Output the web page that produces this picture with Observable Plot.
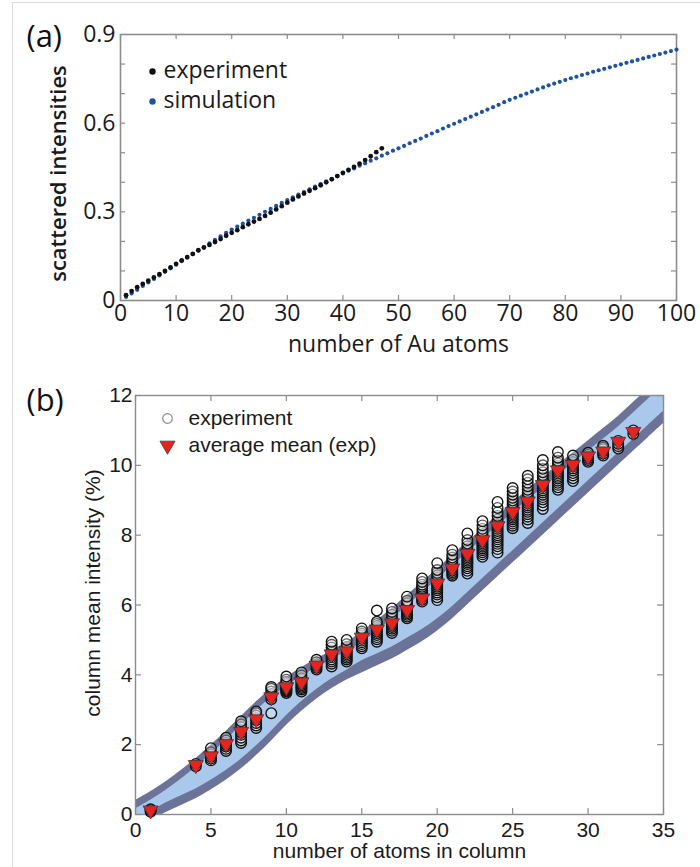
<!DOCTYPE html>
<html>
<head>
<meta charset="utf-8">
<script src="https://cdn.jsdelivr.net/npm/d3@7"></script>
<script src="https://cdn.jsdelivr.net/npm/@observablehq/plot@0.6"></script>
<style>
  body { margin: 0; background: #fff; }
  #wrap { position: relative; width: 700px; height: 867px; overflow: hidden; background: #fff; }
  #wrap svg { display: block; }
  #edge { position: absolute; left: 12px; top: 2px; width: 720px; height: 900px;
          border-left: 1px solid #dcdcdc; border-top: 1px solid #dcdcdc; pointer-events: none; }
</style>
</head>
<body>
<div id="wrap"><div id="edge"></div></div>
<script>
// ---------- Panel (a) data ----------
const simAtoms = d3.range(1, 101);
const simValues = [
  0.012,0.024,0.036,0.049,0.061,0.073,0.085,0.097,0.109,0.121,
  0.133,0.145,0.157,0.169,0.181,0.193,0.205,0.217,0.229,0.240,
  0.250,0.260,0.270,0.280,0.290,0.300,0.310,0.320,0.330,0.340,
  0.349,0.358,0.367,0.376,0.385,0.394,0.403,0.412,0.421,0.430,
  0.439,0.447,0.456,0.464,0.473,0.481,0.490,0.498,0.507,0.515,
  0.523,0.532,0.540,0.548,0.557,0.565,0.573,0.582,0.590,0.598,
  0.606,0.614,0.622,0.630,0.638,0.646,0.654,0.662,0.671,0.679,
  0.686,0.693,0.700,0.707,0.714,0.721,0.728,0.734,0.740,0.746,
  0.752,0.757,0.763,0.768,0.774,0.779,0.784,0.789,0.794,0.799,
  0.804,0.809,0.814,0.819,0.824,0.829,0.834,0.839,0.844,0.849
];
const expAtomsA = d3.range(1, 48);
const expValuesA = [
  0.018,0.032,0.045,0.056,0.067,0.078,0.089,0.100,0.112,0.124,
  0.136,0.147,0.158,0.170,0.179,0.188,0.198,0.208,0.219,0.229,
  0.238,0.248,0.258,0.267,0.276,0.286,0.297,0.308,0.319,0.331,
  0.342,0.352,0.362,0.371,0.380,0.390,0.400,0.410,0.421,0.432,
  0.442,0.452,0.463,0.475,0.488,0.502,0.515
];
const xTicksA = [0,10,20,30,40,50,60,70,80,90,100];
const yTickLabelsA = [0, 0.3, 0.6, 0.9];
const yMinorTicksA = [0.1,0.2,0.3,0.4,0.5,0.6,0.7,0.8];
const legendA = ["experiment", "simulation"];

// ---------- Panel (b) data ----------
const bandAtoms = d3.range(0, 36);
const bandOuterUpper = [0.40,0.65,0.93,1.25,1.60,1.98,2.38,2.80,3.22,3.60,3.92,4.20,4.45,4.68,4.93,5.22,5.55,5.90,6.27,6.65,7.03,7.42,7.80,8.18,8.56,8.93,9.30,9.65,10.00,10.35,10.70,11.05,11.40,11.80,12.20,12.60];
const bandInnerUpper = [0.16,0.41,0.69,1.00,1.35,1.73,2.13,2.55,2.97,3.35,3.67,3.95,4.20,4.43,4.68,4.92,5.25,5.60,5.97,6.35,6.73,7.12,7.50,7.88,8.26,8.63,9.00,9.35,9.70,10.05,10.40,10.75,11.10,11.50,11.90,12.30];
const bandInnerLower = [-0.17,0.08,0.33,0.53,0.73,0.98,1.26,1.58,1.96,2.38,2.83,3.23,3.58,3.88,4.13,4.40,4.60,4.80,5.05,5.30,5.60,5.95,6.35,6.75,7.15,7.55,7.95,8.35,8.75,9.15,9.55,9.95,10.35,10.75,11.15,11.55];
const bandOuterLower = [-0.45,-0.20,0.05,0.25,0.45,0.70,0.98,1.30,1.68,2.10,2.55,2.95,3.30,3.60,3.85,4.05,4.25,4.45,4.70,4.95,5.25,5.60,6.00,6.40,6.80,7.20,7.60,8.00,8.40,8.80,9.20,9.60,10.00,10.40,10.80,11.20];

const expAtomsB = [1,4,5,6,7,8,9,10,11,12,13,14,15,16,17,18,19,20,21,22,23,24,25,26,27,28,29,30,31,32,33];
const expValuesB = [
  [0.08,0.12,0.15],
  [1.38,1.45],
  [1.55,1.60,1.65,1.72,1.78,1.90],
  [1.82,1.88,1.95,2.00,2.05,2.12,2.20],
  [2.05,2.12,2.20,2.28,2.35,2.42,2.50,2.58,2.67],
  [2.48,2.55,2.62,2.70,2.76,2.83,2.90,2.95],
  [2.90,3.30,3.38,3.45,3.52,3.60,3.65],
  [3.48,3.52,3.55,3.58,3.61,3.64,3.67,3.70,3.73,3.76,3.80,3.86,3.95],
  [3.52,3.58,3.62,3.66,3.70,3.74,3.78,3.82,3.86,3.90,3.98,4.07],
  [4.15,4.20,4.25,4.30,4.36,4.43],
  [4.24,4.32,4.38,4.44,4.50,4.55,4.60,4.65,4.70,4.78,4.86,4.95],
  [4.38,4.44,4.49,4.54,4.59,4.64,4.69,4.74,4.80,4.88,5.00],
  [4.76,4.82,4.88,4.93,4.98,5.03,5.08,5.13,5.18,5.24,5.33],
  [4.95,5.02,5.08,5.14,5.19,5.24,5.29,5.34,5.40,5.46,5.52,5.84],
  [5.20,5.26,5.32,5.37,5.42,5.47,5.52,5.58,5.64,5.72,5.80,5.90],
  [5.62,5.67,5.72,5.76,5.80,5.84,5.88,5.93,5.98,6.05,6.12,6.24],
  [6.10,6.16,6.22,6.27,6.32,6.37,6.42,6.47,6.52,6.58,6.66,6.76],
  [6.14,6.22,6.30,6.36,6.42,6.47,6.52,6.57,6.62,6.67,6.72,6.78,6.85,6.92,7.00,7.20],
  [6.84,6.89,6.94,6.99,7.04,7.08,7.12,7.16,7.20,7.25,7.30,7.36,7.44,7.57],
  [6.90,6.98,7.05,7.11,7.17,7.22,7.27,7.32,7.37,7.42,7.47,7.53,7.60,7.68,7.76,7.86,8.05],
  [7.38,7.45,7.51,7.57,7.62,7.67,7.72,7.77,7.82,7.87,7.92,7.97,8.03,8.10,8.18,8.28,8.40],
  [7.50,7.60,7.68,7.75,7.82,7.88,7.94,8.00,8.06,8.12,8.18,8.24,8.30,8.37,8.45,8.55,8.65,8.78,8.95],
  [8.20,8.27,8.33,8.39,8.45,8.50,8.55,8.60,8.65,8.70,8.75,8.80,8.86,8.92,8.99,9.07,9.16,9.25,9.35],
  [8.35,8.45,8.53,8.60,8.67,8.73,8.79,8.85,8.91,8.97,9.03,9.09,9.15,9.22,9.30,9.40,9.50,9.60,9.70],
  [8.75,8.85,8.94,9.02,9.09,9.16,9.22,9.28,9.34,9.40,9.46,9.52,9.58,9.65,9.72,9.80,9.90,10.00,10.15],
  [9.30,9.37,9.44,9.50,9.56,9.62,9.67,9.72,9.77,9.82,9.87,9.92,9.98,10.05,10.13,10.22,10.38],
  [9.55,9.63,9.71,9.78,9.85,9.91,9.97,10.03,10.09,10.16,10.28],
  [10.10,10.15,10.20,10.25,10.30,10.36],
  [10.28,10.34,10.40,10.46,10.51,10.56],
  [10.48,10.55,10.62,10.70],
  [10.90,11.00]
];
const meanAtoms = [1,4,5,6,7,8,9,10,11,12,13,14,15,16,17,18,19,20,21,22,23,24,25,26,27,28,29,30,31,32,33];
const meanValues = [0.12,1.42,1.67,2.02,2.37,2.73,3.36,3.65,3.79,4.27,4.59,4.68,5.07,5.30,5.48,5.86,6.19,6.62,7.05,7.47,7.86,8.26,8.67,8.97,9.44,9.86,10.02,10.26,10.40,10.68,10.96];
const xTicksB = [0,5,10,15,20,25,30,35];
const yTicksB = [0,2,4,6,8,10,12];
const legendB = ["experiment", "average mean (exp)"];

// ---------- styling ----------
const fontA = "'Open Sans', sans-serif";
const fontB = "'Liberation Sans', Arial, sans-serif";
const frameGrey = "#8c8c8c";
const blue = "#1f52a3";
const darkBand = "#6c7399";
const lightBand = "#a9c8ec";
const red = "#e8231f";

// ---------- Panel (a) ----------
const simRows = simAtoms.map((n, i) => ({n, v: simValues[i]}));
const expRowsA = expAtomsA.map((n, i) => ({n, v: expValuesA[i]}));
const A = {w: 700, h: 360, ml: 120, mr: 24, mt: 34, mb: 60};
const fwA = A.w - A.ml - A.mr, fhA = A.h - A.mt - A.mb, tA = 5;

const plotA = Plot.plot({
  width: A.w, height: A.h,
  marginLeft: A.ml, marginRight: A.mr, marginTop: A.mt, marginBottom: A.mb,
  x: {domain: [0, 100]},
  y: {domain: [0, 0.9]},
  style: {fontFamily: fontA, background: "transparent", color: "#1a1a1a"},
  marks: [
    Plot.tickX(xTicksA, {x: d => d, insetTop: fhA - tA, stroke: frameGrey, strokeWidth: 1.2}),
    Plot.tickX(xTicksA, {x: d => d, insetBottom: fhA - tA, stroke: frameGrey, strokeWidth: 1.2}),
    Plot.tickY(yMinorTicksA, {y: d => d, insetRight: fwA - tA, stroke: frameGrey, strokeWidth: 1.2}),
    Plot.tickY(yMinorTicksA, {y: d => d, insetLeft: fwA - tA, stroke: frameGrey, strokeWidth: 1.2}),
    Plot.frame({stroke: frameGrey, strokeWidth: 1.6}),
    Plot.axisX({ticks: xTicksA, tickSize: 0, tickPadding: 4, fontSize: 23, label: null}),
    Plot.axisY({ticks: yTickLabelsA, tickSize: 0, tickPadding: 5, fontSize: 23, label: null,
                tickFormat: d => d === 0 ? "0" : String(d)}),
    Plot.dot(simRows, {x: "n", y: "v", r: 2.1, fill: blue}),
    Plot.dot(expRowsA, {x: "n", y: "v", r: 2.4, fill: "#111"}),
    // legend
    Plot.dot([legendA[0]], {frameAnchor: "top-left", dx: 32, dy: 37, r: 3.2, fill: "#111"}),
    Plot.dot([legendA[1]], {frameAnchor: "top-left", dx: 32, dy: 67, r: 3.2, fill: blue}),
    Plot.text([legendA[0]], {text: d => d, frameAnchor: "top-left", dx: 43, dy: 36, textAnchor: "start", lineAnchor: "middle", fontSize: 23}),
    Plot.text([legendA[1]], {text: d => d, frameAnchor: "top-left", dx: 43, dy: 66, textAnchor: "start", lineAnchor: "middle", fontSize: 23}),
    // titles
    Plot.text(["scattered intensities"], {text: d => d, frameAnchor: "left", dx: -62, dy: 6, rotate: -90, textAnchor: "middle", lineAnchor: "middle", fontSize: 22, fontWeight: 600}),
    Plot.text(["number of Au atoms"], {text: d => d, frameAnchor: "bottom", dy: 44, textAnchor: "middle", lineAnchor: "middle", fontSize: 23}),
    Plot.text(["(a)"], {text: d => d, frameAnchor: "top-left", dx: -94, dy: 3, textAnchor: "start", lineAnchor: "middle", fontSize: 31, fill: "#111"})
  ]
});

// ---------- Panel (b) ----------
const bandRows = bandAtoms.map((n, i) => ({
  n, U: bandOuterUpper[i], u: bandInnerUpper[i], l: bandInnerLower[i], L: bandOuterLower[i]
}));
const expRowsB = expAtomsB.flatMap((n, i) => expValuesB[i].map(v => ({n, v})));
const meanRows = meanAtoms.map((n, i) => ({n, v: meanValues[i]}));
const B = {w: 700, h: 507, ml: 135, mr: 37, mt: 35, mb: 53};
const fwB = B.w - B.ml - B.mr, fhB = B.h - B.mt - B.mb, tB = 6;

const plotB = Plot.plot({
  width: B.w, height: B.h,
  marginLeft: B.ml, marginRight: B.mr, marginTop: B.mt, marginBottom: B.mb,
  x: {domain: [0, 35]},
  y: {domain: [0, 12]},
  style: {fontFamily: fontB, background: "transparent", color: "#1a1a1a"},
  marks: [
    Plot.areaY(bandRows, {x: "n", y1: "L", y2: "U", fill: darkBand, curve: "catmull-rom", clip: true}),
    Plot.areaY(bandRows, {x: "n", y1: "l", y2: "u", fill: lightBand, curve: "catmull-rom", clip: true}),
    Plot.tickX(xTicksB, {x: d => d, insetTop: fhB - tB, stroke: frameGrey, strokeWidth: 1.2}),
    Plot.tickX(xTicksB, {x: d => d, insetBottom: fhB - tB, stroke: frameGrey, strokeWidth: 1.2}),
    Plot.tickY(yTicksB, {y: d => d, insetRight: fwB - tB, stroke: frameGrey, strokeWidth: 1.2}),
    Plot.tickY(yTicksB, {y: d => d, insetLeft: fwB - tB, stroke: frameGrey, strokeWidth: 1.2}),
    Plot.frame({stroke: frameGrey, strokeWidth: 1.4}),
    Plot.axisX({ticks: xTicksB, tickSize: 0, tickPadding: 8, fontSize: 21, label: null}),
    Plot.axisY({ticks: yTicksB, tickSize: 0, tickPadding: 3, fontSize: 21, label: null}),
    Plot.dot(expRowsB, {x: "n", y: "v", r: 5.3, fill: "white", fillOpacity: 0.3, stroke: "#111", strokeWidth: 1.35}),
    Plot.dot(meanRows, {x: "n", y: "v", symbol: "triangle", rotate: 180, r: 5.6, fill: red, stroke: "#3a3a3a", strokeWidth: 0.8}),
    // legend
    Plot.dot([legendB[0]], {frameAnchor: "top-left", dx: 32, dy: 23, r: 4.8, fill: "white", stroke: "#8a8a8a", strokeWidth: 1.2}),
    Plot.dot([legendB[1]], {frameAnchor: "top-left", dx: 32, dy: 50, symbol: "triangle", rotate: 180, r: 5.6, fill: red, stroke: "#3a3a3a", strokeWidth: 0.8}),
    Plot.text([legendB[0]], {text: d => d, frameAnchor: "top-left", dx: 53, dy: 23, textAnchor: "start", lineAnchor: "middle", fontSize: 21}),
    Plot.text([legendB[1]], {text: d => d, frameAnchor: "top-left", dx: 53, dy: 50, textAnchor: "start", lineAnchor: "middle", fontSize: 21}),
    // titles
    Plot.text(["column mean intensity (%)"], {text: d => d, frameAnchor: "left", dx: -42, dy: -12, rotate: -90, textAnchor: "middle", lineAnchor: "middle", fontSize: 21}),
    Plot.text(["number of atoms in column"], {text: d => d, frameAnchor: "bottom", dy: 37, textAnchor: "middle", lineAnchor: "middle", fontSize: 21}),
    Plot.text(["(b)"], {text: d => d, frameAnchor: "top-left", dx: -109, dy: 6, textAnchor: "start", lineAnchor: "middle", fontSize: 31, fontFamily: fontA, fill: "#111"})
  ]
});

const wrap = document.getElementById("wrap");
wrap.insertBefore(plotA, wrap.firstChild);
wrap.insertBefore(plotB, document.getElementById("edge"));
</script>
</body>
</html>
